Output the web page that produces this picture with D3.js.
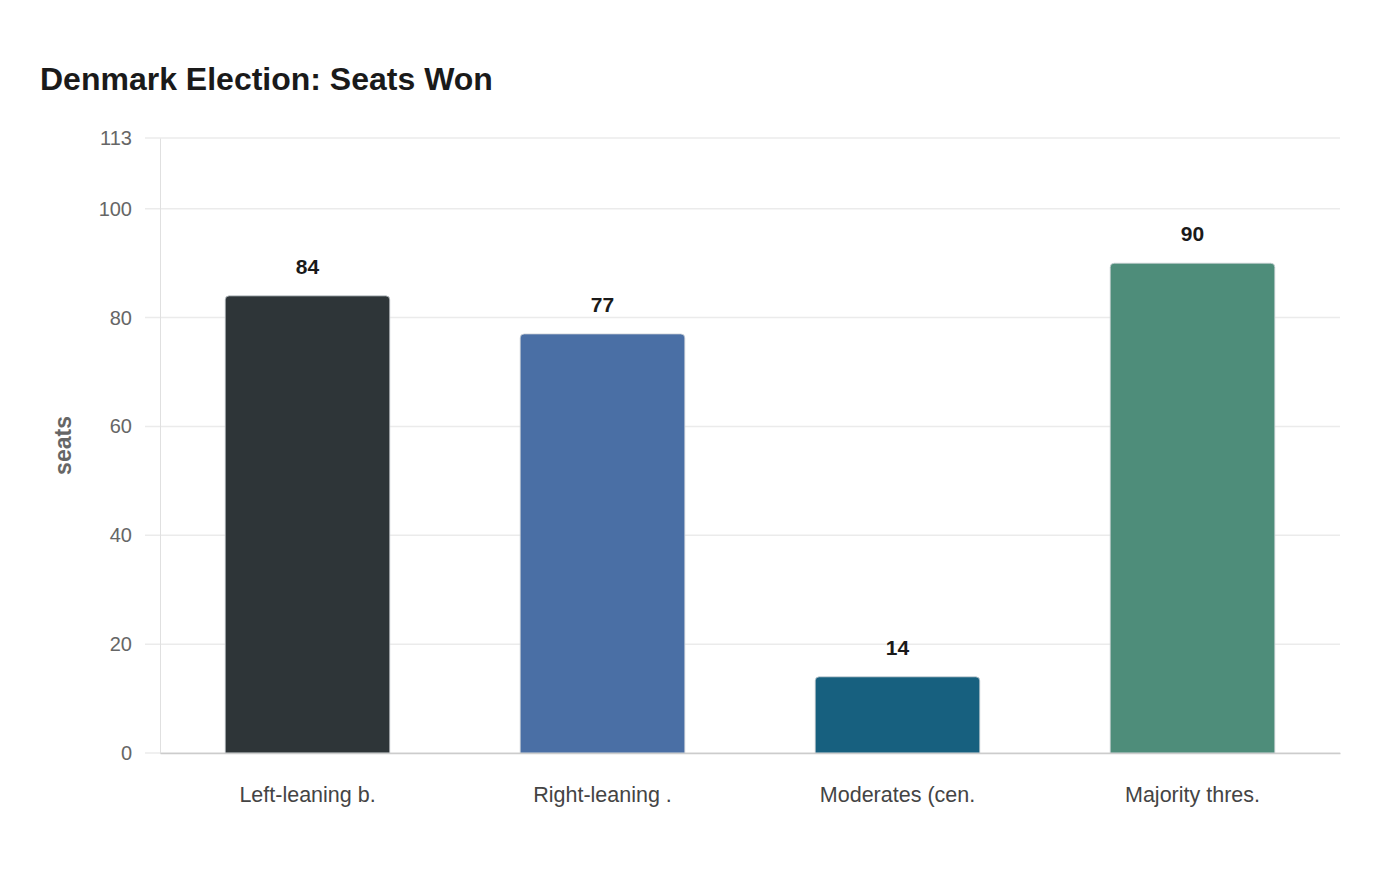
<!DOCTYPE html>
<html>
<head>
<meta charset="utf-8">
<script src="https://cdn.jsdelivr.net/npm/d3@7"></script>
<style>
  body { margin: 0; background: #fff; font-family: "Liberation Sans", Arial, sans-serif; }
  svg { display: block; }
</style>
</head>
<body>
<script>
// chart data
var categories = ["Left-leaning b.", "Right-leaning .", "Moderates (cen.", "Majority thres."];
var seats = [84, 77, 14, 90];
var colors = ["#2e3538", "#4a6fa5", "#17607f", "#4e8d7a"];
var yTicks = [0, 20, 40, 60, 80, 100, 113];

var width = 1400, height = 880;
var margin = {top: 138, right: 60, bottom: 127, left: 160};

var svg = d3.select("body").append("svg")
  .attr("width", width)
  .attr("height", height);

// title
svg.append("text")
  .attr("x", 40)
  .attr("y", 90)
  .attr("font-size", 32)
  .attr("font-weight", "bold")
  .attr("fill", "#1a1a1a")
  .text("Denmark Election: Seats Won");

var x = d3.scaleBand()
  .domain(categories)
  .range([margin.left, width - margin.right])
  .paddingInner(0.442)
  .paddingOuter(0.221);

var y = d3.scaleLinear()
  .domain([0, 113])
  .range([height - margin.bottom, margin.top]);

// gridlines
svg.append("g")
  .selectAll("line")
  .data(yTicks)
  .enter().append("line")
  .attr("x1", margin.left - 15)
  .attr("x2", width - margin.right)
  .attr("y1", function(d) { return y(d); })
  .attr("y2", function(d) { return y(d); })
  .attr("stroke", "#ebebeb")
  .attr("stroke-width", 1.5);

// y axis
var yAxis = svg.append("g")
  .attr("transform", "translate(" + margin.left + ",0)")
  .call(d3.axisLeft(y).tickValues(yTicks).tickSize(0).tickPadding(28));
yAxis.select(".domain").attr("stroke", "#e0e0e0");
yAxis.selectAll("text")
  .attr("font-family", "Liberation Sans, Arial, sans-serif")
  .attr("font-size", 20)
  .attr("fill", "#666");

// y label
svg.append("text")
  .attr("transform", "translate(71," + ((margin.top + height - margin.bottom) / 2) + ") rotate(-90)")
  .attr("text-anchor", "middle")
  .attr("font-size", 23)
  .attr("font-weight", "bold")
  .attr("fill", "#666")
  .text("seats");

// bars with rounded tops
function barPath(d, i) {
  var x0 = x(categories[i]), w = x.bandwidth();
  var yt = y(d), yb = y(0), r = 4;
  return "M" + x0 + "," + yb +
    "V" + (yt + r) +
    "Q" + x0 + "," + yt + " " + (x0 + r) + "," + yt +
    "H" + (x0 + w - r) +
    "Q" + (x0 + w) + "," + yt + " " + (x0 + w) + "," + (yt + r) +
    "V" + yb + "Z";
}

svg.append("g")
  .selectAll("path")
  .data(seats)
  .enter().append("path")
  .attr("d", barPath)
  .attr("fill", function(d, i) { return colors[i]; })
  .attr("stroke", "#cfd4d8")
  .attr("stroke-width", 0.8);

// value labels
svg.append("g")
  .selectAll("text")
  .data(seats)
  .enter().append("text")
  .attr("x", function(d, i) { return x(categories[i]) + x.bandwidth() / 2; })
  .attr("y", function(d) { return y(d) - 22; })
  .attr("text-anchor", "middle")
  .attr("font-size", 21)
  .attr("font-weight", "bold")
  .attr("fill", "#1a1a1a")
  .text(function(d) { return d; });

// x axis
var xAxis = svg.append("g")
  .attr("transform", "translate(0," + y(0) + ")")
  .call(d3.axisBottom(x).tickSize(0).tickPadding(34));
xAxis.select(".domain").attr("stroke", "#cccccc").attr("stroke-width", 1.5);
xAxis.selectAll("text")
  .attr("font-family", "Liberation Sans, Arial, sans-serif")
  .attr("font-size", 21.5)
  .attr("fill", "#444");
</script>
</body>
</html>
